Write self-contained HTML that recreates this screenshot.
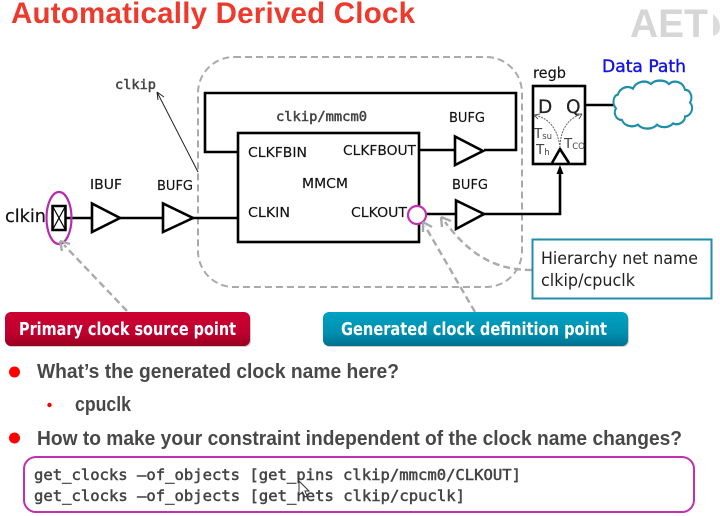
<!DOCTYPE html>
<html><head><meta charset="utf-8">
<style>
html,body{margin:0;padding:0;background:#fff;width:720px;height:516px;overflow:hidden}
svg{display:block}
.l{font-family:"DejaVu Sans",sans-serif;font-size:13.500px;fill:#111;stroke:#111;stroke-width:.15}
.s{font-family:"Liberation Sans",sans-serif;font-weight:bold;fill:#484848;font-size:20px}
.m{font-family:"DejaVu Sans Mono",monospace;fill:#444;stroke:#444;stroke-width:.5}
</style></head><body>
<svg width="720" height="516" viewBox="0 0 720 516" xmlns="http://www.w3.org/2000/svg">
<defs>
<linearGradient id="r" x1="0" y1="0" x2="0" y2="1"><stop offset="0" stop-color="#cc0030"/><stop offset=".6" stop-color="#c00030"/><stop offset="1" stop-color="#98001f"/></linearGradient>
<linearGradient id="b" x1="0" y1="0" x2="0" y2="1"><stop offset="0" stop-color="#00a2c2"/><stop offset=".6" stop-color="#0090b0"/><stop offset="1" stop-color="#00708f"/></linearGradient>
</defs>
<text x="11" y="23" font-family="Liberation Sans,sans-serif" font-weight="bold" font-size="29.500" fill="#ee3a2c" textLength="404" lengthAdjust="spacing">Automatically Derived Clock</text>
<text x="630" y="37" font-family="Liberation Sans,sans-serif" font-weight="bold" font-size="40" fill="#d6d6d6" textLength="78" lengthAdjust="spacingAndGlyphs">AET</text>
<path d="M713 14q7 6 7 13t-7 9z" fill="#dcdcdc"/>

<rect x="198" y="57" width="324" height="230" rx="36" fill="none" stroke="#aaa" stroke-width="2" stroke-dasharray="7 4"/>

<g fill="none" stroke="#000" stroke-width="2.600">
<path d="M238 152H205V93H516V150H484"/>
<rect x="238" y="133" width="181" height="109" fill="#fff"/>
<path d="M66 218H92M120 218H163M193 218H238M419 150H455M426 214H456M484 214H560V168M585 105H616"/>
<path d="M92 203.500V232L120 218Z"/>
<path d="M163 203.500V232L193 218Z"/>
<path d="M455 136.500V165L483 151Z"/>
<path d="M456 200.500V229L484 214Z"/>
<rect x="533" y="86" width="52" height="78"/>
<path d="M552 163L560 149L569 163"/>
</g>
<path d="M560 165l-3.500 9h7z" fill="#000"/>

<rect x="52.500" y="206" width="13" height="24" fill="#fff" stroke="#000" stroke-width="2.500"/>
<path d="M53 207L65 229M65 207L53 229" stroke="#000" stroke-width="1.200"/>
<ellipse cx="59" cy="218" rx="12.500" ry="26" fill="none" stroke="#b52cb0" stroke-width="2.200"/>
<circle cx="417" cy="215" r="9" fill="#fff" stroke="#c030b0" stroke-width="2.200"/>

<path d="M198 172L157 92M157 92l1 8M157 92l7 5" fill="none" stroke="#222" stroke-width="1"/>

<g fill="none" stroke="#aaa" stroke-width="2.400">
<path d="M127 311L64 245" stroke-dasharray="7 4"/>
<path d="M60 241l10 3M60 241l2 10"/>
<path d="M475 312L425 226" stroke-dasharray="7 4"/>
<path d="M423 222l9 5M423 222l0 10"/>
<path d="M532 270C495 270 470 255 445 222" stroke-dasharray="7 4"/>
<path d="M441 217l10 4M441 217l1 10"/>
</g>

<g transform="translate(0 105.500) scale(1 1.160) translate(0 -105.500)">
<path d="M618 96c2-6 10-8 15-5c3-6 12-8 18-4c4-4 14-4 18 0c5-4 14-2 16 5c6 0 8 7 5 11c4 4 2 11-5 12c0 5-7 8-12 6c-4 4-12 4-16 1c-4 4-14 5-19 0c-6 3-14 1-16-4c-6 0-9-6-6-10c-4-4-3-11 2-12z" fill="#fff" stroke="#1f8ea8" stroke-width="2"/>
</g>

<g fill="none" stroke="#666" stroke-width="1" stroke-dasharray="2 1">
<path d="M560 148C558 130 550 118 534 115"/>
<path d="M560 148C560 130 568 118 582 114"/>
</g>
<path d="M534 115l6-1M534 115l4 4M582 114l-6 0M582 114l-3 5" fill="none" stroke="#555" stroke-width="1"/>

<text x="115" y="89" class="m" font-size="13" textLength="41" lengthAdjust="spacingAndGlyphs">clkip</text>
<text x="276" y="121" class="m" font-size="13" textLength="91" lengthAdjust="spacingAndGlyphs">clkip/mmcm0</text>

<text x="90" y="189" class="l" textLength="32" lengthAdjust="spacingAndGlyphs">IBUF</text>
<text x="157" y="190" class="l" textLength="36" lengthAdjust="spacingAndGlyphs">BUFG</text>
<text x="449" y="122" class="l" textLength="36" lengthAdjust="spacingAndGlyphs">BUFG</text>
<text x="452" y="189" class="l" textLength="36" lengthAdjust="spacingAndGlyphs">BUFG</text>
<text x="248" y="157" class="l" textLength="59" lengthAdjust="spacingAndGlyphs">CLKFBIN</text>
<text x="343" y="155" class="l" textLength="73" lengthAdjust="spacingAndGlyphs">CLKFBOUT</text>
<text x="302" y="188" class="l" textLength="46" lengthAdjust="spacingAndGlyphs">MMCM</text>
<text x="248" y="217" class="l" textLength="42" lengthAdjust="spacingAndGlyphs">CLKIN</text>
<text x="351" y="217" class="l" textLength="56" lengthAdjust="spacingAndGlyphs">CLKOUT</text>
<text x="5" y="222" font-family="DejaVu Sans,sans-serif" font-size="18" fill="#111" stroke="#111" stroke-width=".2" textLength="41" lengthAdjust="spacingAndGlyphs">clkin</text>
<text x="533" y="78" font-family="DejaVu Sans,sans-serif" font-size="15" fill="#111" stroke="#111" stroke-width=".15" textLength="33" lengthAdjust="spacingAndGlyphs">regb</text>
<text x="602" y="72" font-family="DejaVu Sans,sans-serif" font-size="16.500" fill="#1414e0" stroke="#1414e0" stroke-width=".4" textLength="84" lengthAdjust="spacingAndGlyphs">Data Path</text>
<text x="538" y="113" font-family="DejaVu Sans,sans-serif" font-size="18.500" fill="#222" stroke="#222" stroke-width=".2">D</text>
<text x="566" y="113" font-family="DejaVu Sans,sans-serif" font-size="18.500" fill="#222" stroke="#222" stroke-width=".2">Q</text>
<text x="534" y="138" font-family="DejaVu Sans,sans-serif" font-size="13.500" fill="#444">T<tspan font-size="8.500" dy="1">su</tspan></text>
<text x="536" y="154" font-family="DejaVu Sans,sans-serif" font-size="13.500" fill="#444">T<tspan font-size="8.500" dy="1">h</tspan></text>
<text x="564" y="148" font-family="DejaVu Sans,sans-serif" font-size="13.500" fill="#444">T<tspan font-size="8.500" dy="1">CO</tspan></text>

<rect x="532.500" y="239.500" width="179" height="59" fill="#fff" stroke="#1f8ea8" stroke-width="2"/>
<text x="541" y="264" font-family="DejaVu Sans,sans-serif" font-size="17" fill="#222" textLength="157" lengthAdjust="spacingAndGlyphs">Hierarchy net name</text>
<text x="541" y="286" font-family="DejaVu Sans,sans-serif" font-size="17" fill="#222" textLength="94" lengthAdjust="spacingAndGlyphs">clkip/cpuclk</text>

<rect x="6" y="314" width="245" height="33" rx="6" fill="#ccc"/>
<rect x="5" y="312" width="245" height="34" rx="6" fill="url(#r)"/>
<text x="19" y="335" font-family="DejaVu Sans,sans-serif" font-weight="bold" font-size="17.500" fill="#fff" textLength="217" lengthAdjust="spacingAndGlyphs">Primary clock source point</text>
<rect x="324" y="314" width="305" height="33" rx="6" fill="#ccc"/>
<rect x="323" y="312" width="305" height="34" rx="6" fill="url(#b)"/>
<text x="341" y="335" font-family="DejaVu Sans,sans-serif" font-weight="bold" font-size="17.500" fill="#fff" textLength="266" lengthAdjust="spacingAndGlyphs">Generated clock definition point</text>

<circle cx="14.500" cy="372" r="5.500" fill="#f00"/>
<circle cx="49.500" cy="405" r="2.200" fill="#f00"/>
<circle cx="14.500" cy="438" r="5.500" fill="#f00"/>
<text x="37" y="378" class="s" textLength="362" lengthAdjust="spacingAndGlyphs">What’s the generated clock name here?</text>
<text x="75" y="411" class="s" textLength="56" lengthAdjust="spacingAndGlyphs">cpuclk</text>
<text x="37" y="445" class="s" textLength="645" lengthAdjust="spacingAndGlyphs">How to make your constraint independent of the clock name changes?</text>

<rect x="24" y="457" width="670" height="55" rx="12" fill="#fff" stroke="#c030b0" stroke-width="2"/>
<text x="34" y="480" class="m" font-size="15.500" textLength="487" lengthAdjust="spacingAndGlyphs">get_clocks –of_objects [get_pins clkip/mmcm0/CLKOUT]</text>
<text x="34" y="501" class="m" font-size="15.500" textLength="431" lengthAdjust="spacingAndGlyphs">get_clocks –of_objects [get_nets clkip/cpuclk]</text>
<path d="M299 481V495L302.500 492L305 497L307 496L305 491L309 491Z" fill="#fff" stroke="#333" stroke-width="1"/>
</svg>
</body></html>
